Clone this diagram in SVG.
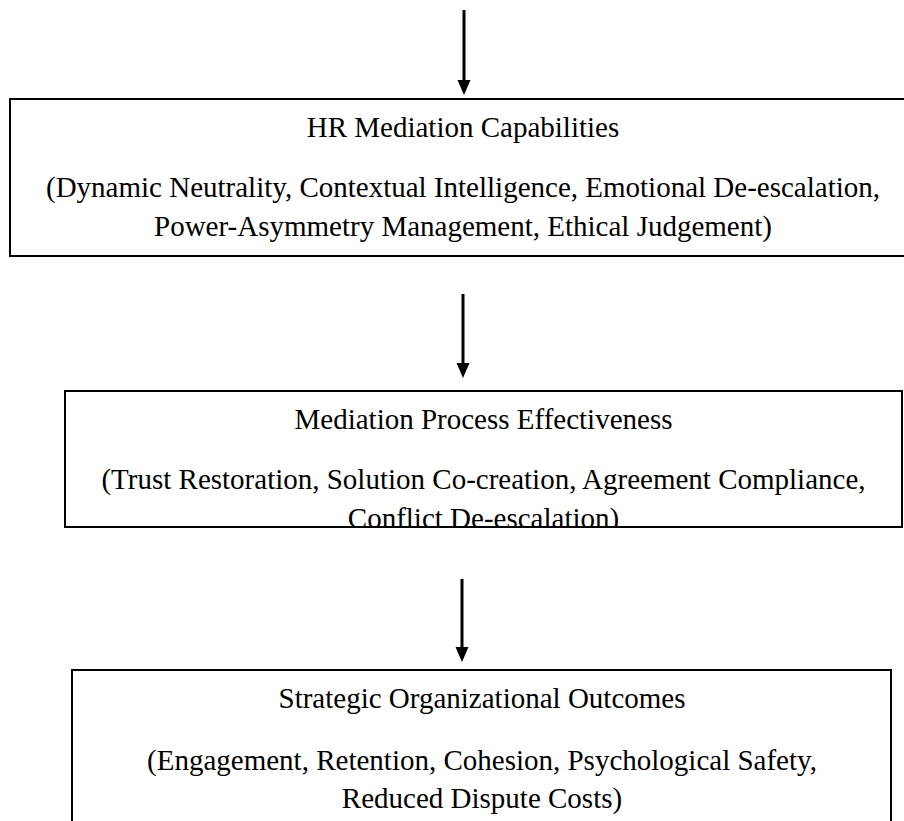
<svg xmlns="http://www.w3.org/2000/svg" width="904" height="821" viewBox="0 0 904 821">
<style>
.box{fill:#fff;stroke:#000;stroke-width:2}
.t{font-family:"Liberation Serif","Times New Roman",serif;font-size:29px;fill:#000;text-anchor:middle}
.sh{stroke:#000;stroke-width:3}
.hd{fill:#000}
</style>
<defs>
<clipPath id="c2"><rect x="66" y="392" width="835" height="134"/></clipPath>
</defs>
<rect width="904" height="821" fill="#fff"/>
<g id="node1">
<rect class="box" x="10" y="99" width="906" height="157"/>
<text class="t" x="463" y="137">HR Mediation Capabilities</text>
<text class="t" x="463" y="197">(Dynamic Neutrality, Contextual Intelligence, Emotional De-escalation,</text>
<text class="t" x="463" y="236">Power-Asymmetry Management, Ethical Judgement)</text>
</g>
<g id="node2">
<rect class="box" x="65" y="391" width="837" height="136"/>
<g clip-path="url(#c2)">
<text class="t" x="483.5" y="429">Mediation Process Effectiveness</text>
<text class="t" x="483.5" y="489">(Trust Restoration, Solution Co-creation, Agreement Compliance,</text>
<text class="t" x="483.5" y="528">Conflict De-escalation)</text>
</g>
</g>
<g id="node3">
<rect class="box" x="72" y="670" width="819" height="170"/>
<text class="t" x="482" y="708">Strategic Organizational Outcomes</text>
<text class="t" x="482" y="770">(Engagement, Retention, Cohesion, Psychological Safety,</text>
<text class="t" x="482" y="808">Reduced Dispute Costs)</text>
</g>
<g id="connectors">
<line class="sh" x1="464" y1="10" x2="464" y2="82"/>
<polygon class="hd" points="457.5,80 470.5,80 464,95"/>
<line class="sh" x1="463" y1="294" x2="463" y2="365"/>
<polygon class="hd" points="456.5,363 469.5,363 463,378"/>
<line class="sh" x1="462" y1="579" x2="462" y2="649"/>
<polygon class="hd" points="455.5,647 468.5,647 462,662"/>
</g>
</svg>
